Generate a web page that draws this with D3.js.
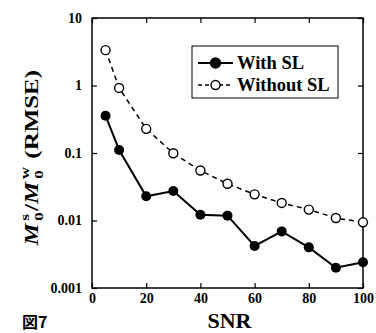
<!DOCTYPE html>
<html>
<head>
<meta charset="utf-8">
<script src="https://cdn.jsdelivr.net/npm/d3@7"></script>
<style>
  body { margin: 0; background: #fff; }
</style>
</head>
<body>
<div id="chart"></div>
<script>
// data
var snr = [5, 10, 20, 30, 40, 50, 60, 70, 80, 90, 100];
var withSL = [0.357, 0.111, 0.0228, 0.0273, 0.0122, 0.0118, 0.0042, 0.0069, 0.0040, 0.0020, 0.0024];
var withoutSL = [3.34, 0.92, 0.228, 0.099, 0.055, 0.035, 0.0244, 0.0182, 0.0145, 0.0109, 0.0094];
var xTicks = [0, 20, 40, 60, 80, 100];
var yTicks = [0.001, 0.01, 0.1, 1, 10];
var yTickLabels = ['0.001', '0.01', '0.1', '1', '10'];
var seriesNames = ['With SL', 'Without SL'];

((d3) => {
    var W = 376, H = 333;
    var margin = {top: 18, right: 13, bottom: 45, left: 92};
    var w = W - margin.left - margin.right,
        h = H - margin.top - margin.bottom;
    var SERIF = '"Liberation Serif"';

    var svg = d3.select('#chart').append('svg')
        .attr('width', W)
        .attr('height', H);

    var g = svg.append('g')
        .attr('transform', 'translate(' + margin.left + ',' + margin.top + ')');

    var x = d3.scaleLinear().domain([0, 100]).range([0, w]);
    var y = d3.scaleLog().domain([0.001, 10]).range([h, 0]);

    // axes, ticks pointing inward on all four sides
    g.append('g')
        .attr('transform', 'translate(0,' + h + ')')
        .call(d3.axisBottom(x).tickValues(xTicks).tickSizeInner(-5).tickSizeOuter(0).tickPadding(5));
    g.append('g')
        .call(d3.axisTop(x).tickValues(xTicks).tickSizeInner(-5).tickSizeOuter(0).tickFormat(''));
    g.append('g')
        .call(d3.axisLeft(y).tickValues(yTicks).tickSizeInner(-5).tickSizeOuter(0).tickPadding(10)
            .tickFormat(function (d, i) { return yTickLabels[i]; }));
    g.append('g')
        .attr('transform', 'translate(' + w + ',0)')
        .call(d3.axisRight(y).tickValues(yTicks).tickSizeInner(-5).tickSizeOuter(0).tickFormat(''));

    g.selectAll('.domain').remove();
    g.selectAll('.tick line').attr('stroke', '#000').attr('stroke-width', 1.2);
    g.selectAll('.tick text')
        .style('font-family', SERIF)
        .style('font-weight', 'bold')
        .style('font-size', '14px')
        .attr('fill', '#000');

    // frame
    g.append('rect')
        .attr('width', w)
        .attr('height', h)
        .attr('fill', 'none')
        .attr('stroke', '#000')
        .attr('stroke-width', 1.5);

    var line = d3.line()
        .x(function (d) { return x(d[0]); })
        .y(function (d) { return y(d[1]); });

    var open = d3.zip(snr, withoutSL);
    var filled = d3.zip(snr, withSL);

    // without SL: dashed, open circles
    g.append('path')
        .datum(open)
        .attr('d', line)
        .attr('fill', 'none')
        .attr('stroke', '#000')
        .attr('stroke-width', 1.5)
        .attr('stroke-dasharray', '5,4');
    g.selectAll('.open')
        .data(open)
        .enter()
        .append('circle')
        .attr('class', 'open')
        .attr('cx', function (d) { return x(d[0]); })
        .attr('cy', function (d) { return y(d[1]); })
        .attr('r', 4.5)
        .attr('fill', '#fff')
        .attr('stroke', '#000')
        .attr('stroke-width', 1.4);

    // with SL: solid, filled circles
    g.append('path')
        .datum(filled)
        .attr('d', line)
        .attr('fill', 'none')
        .attr('stroke', '#000')
        .attr('stroke-width', 2);
    g.selectAll('.filled')
        .data(filled)
        .enter()
        .append('circle')
        .attr('class', 'filled')
        .attr('cx', function (d) { return x(d[0]); })
        .attr('cy', function (d) { return y(d[1]); })
        .attr('r', 5)
        .attr('fill', '#000');

    // legend
    var lg = svg.append('g').attr('transform', 'translate(192,46)');
    lg.append('rect')
        .attr('width', 146)
        .attr('height', 52)
        .attr('fill', '#fff')
        .attr('stroke', '#000')
        .attr('stroke-width', 1);

    lg.selectAll('g.item')
        .data(seriesNames)
        .enter()
        .append('g')
        .attr('class', 'item')
        .attr('transform', function (d, i) { return 'translate(0,' + (17 + i * 22) + ')'; })
        .each(function (d, i) {
            var item = d3.select(this);
            item.append('line')
                .attr('x1', 6).attr('x2', 41)
                .attr('stroke', '#000')
                .attr('stroke-width', i === 0 ? 2 : 1.5)
                .attr('stroke-dasharray', i === 0 ? null : '4,3');
            item.append('circle')
                .attr('cx', 23.5)
                .attr('r', i === 0 ? 5 : 4.5)
                .attr('fill', i === 0 ? '#000' : '#fff')
                .attr('stroke', '#000')
                .attr('stroke-width', 1.4);
            item.append('text')
                .attr('x', 45)
                .attr('dy', '0.33em')
                .style('font-family', SERIF)
                .style('font-weight', 'bold')
                .style('font-size', '18.5px')
                .text(d);
        });

    // y title: M0^s / M0^w (RMSE), stretched along its baseline to the figure's length
    var ytg = svg.append('g');
    var yt = ytg.append('text')
        .attr('text-anchor', 'middle')
        .style('font-family', SERIF)
        .style('font-weight', 'bold')
        .style('font-size', '19px');
    yt.append('tspan').style('font-style', 'italic').text('M');
    yt.append('tspan').style('font-size', '13px').attr('dx', 2).attr('dy', -9).text('s');
    yt.append('tspan').style('font-size', '13px').attr('dx', -5).attr('dy', 14).text('0');
    yt.append('tspan').attr('dx', 1).attr('dy', -5).text('/');
    yt.append('tspan').style('font-style', 'italic').text('M');
    yt.append('tspan').style('font-size', '13px').attr('dx', 2).attr('dy', -9).text('w');
    yt.append('tspan').style('font-size', '13px').attr('dx', -9).attr('dy', 14).text('0');
    yt.append('tspan').attr('dy', -5).attr('dx', 4).text(' (RMSE)');
    var bb = yt.node().getBBox();
    var k = 177 / bb.width;
    yt.attr('x', -(bb.x + bb.width / 2));
    ytg.attr('transform', 'translate(38,158.5) rotate(-90) scale(' + k + ',1)');

    // x title
    svg.append('text')
        .attr('x', margin.left + w / 2 + 2)
        .attr('y', 328)
        .attr('text-anchor', 'middle')
        .style('font-family', SERIF)
        .style('font-weight', 'bold')
        .style('font-size', '22px')
        .text('SNR');

    // figure number
    svg.append('text')
        .attr('x', 22)
        .attr('y', 328)
        .style('font-family', '"Noto Sans CJK JP"')
        .style('font-weight', 'bold')
        .style('font-size', '16px')
        .text('図7');
})(window.d3);
</script>
</body>
</html>
